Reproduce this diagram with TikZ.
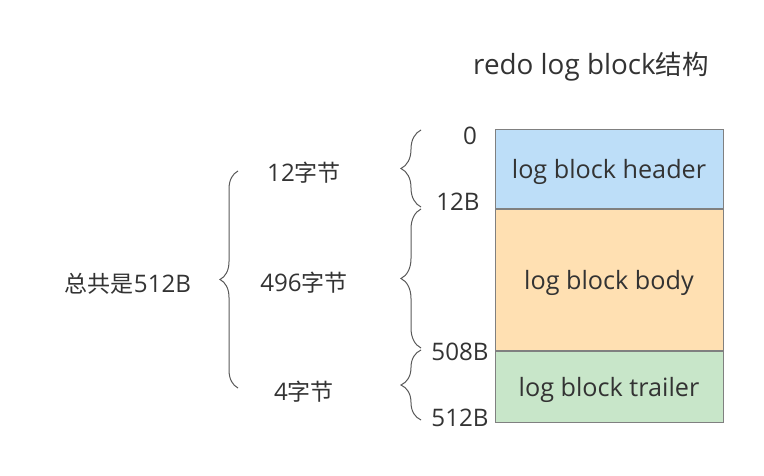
\documentclass[tikz,border=0pt]{standalone}
\usepackage{fontspec}
\setmainfont[Scale=1.05]{Open Sans}
\newfontfamily\cjk{Noto Sans CJK SC}
\usetikzlibrary{positioning}
\usetikzlibrary{decorations.pathreplacing}

\definecolor{hdrblue}{RGB}{189,222,248}
\definecolor{bodyorange}{RGB}{255,224,178}
\definecolor{trlgreen}{RGB}{200,230,201}
\definecolor{txtgray}{RGB}{51,51,51}

\begin{document}
\begin{tikzpicture}[x=1pt, y=-1pt, font=\fontsize{23}{27}\selectfont, text=txtgray]
	\tikzset{
		blk/.style={draw=gray, line width=1pt, minimum width=228pt, inner sep=0pt,
			text depth=0pt, font=\fontsize{24}{28}\selectfont},
		brc/.style={draw=black!65, line width=1pt, decorate, decoration={brace, amplitude=#1}}
	}
	\useasboundingbox (0,0) rectangle (764,476);

	\node[font=\fontsize{26.5}{30}\selectfont] at (591, 67) (title) {redo log block{\cjk 结构}};

	% the block itself
	\node[blk, fill=hdrblue, minimum height=79pt, anchor=north] at (609, 129) (hdr) {log block header};
	\node[blk, fill=bodyorange, minimum height=141pt, below=0pt of hdr] (body) {log block body};
	\node[blk, fill=trlgreen, minimum height=71pt, below=0pt of body] (trl) {log block trailer};

	\node at (470, 136) (off0) {0};
	\node at (458, 202) (off12) {12B};
	\node at (460, 352) (off508) {508B};
	\node at (460, 418) (off512) {512B};

	% small braces
	\draw[brc=20pt] (421, 207) -- (421, 130);
	\draw[brc=20pt] (421, 348) -- (421, 209);
	\draw[brc=20pt] (421, 420) -- (421, 350);

	\node at (304, 173) (len12) {12{\cjk 字节}};
	\node at (304, 283) (len496) {496{\cjk 字节}};
	\node at (304, 392) (len4) {4{\cjk 字节}};

	\draw[brc=18pt] (238, 388) -- (238, 171);
	\node at (128, 284) (total) {{\cjk 总共是}512B};

\end{tikzpicture}
\end{document}
